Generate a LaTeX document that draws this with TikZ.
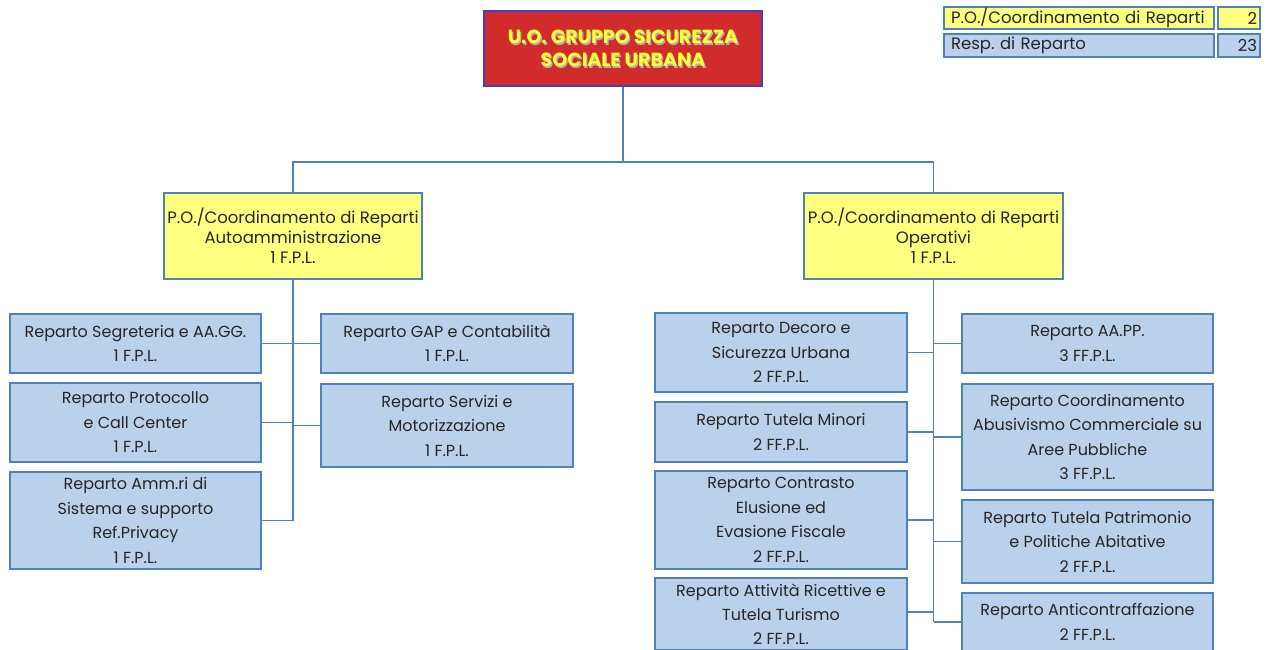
\documentclass[tikz,border=0pt]{standalone}
\usepackage{fontspec}
\setmainfont{Poppins}
\definecolor{boxblue}{HTML}{B9D1EA}
\definecolor{edgeblue}{HTML}{4F81BD}
\definecolor{poyellow}{HTML}{FFFF80}
\definecolor{titlered}{HTML}{D22B2B}
\definecolor{titleedge}{HTML}{4040C0}
\definecolor{titletext}{HTML}{FFFF33}
\definecolor{ink}{HTML}{262626}
\tikzset{
  unitbox/.style={draw=edgeblue, fill=boxblue, line width=1.1pt, align=center, text=ink,
    font=\fontsize{16}{24.5}\selectfont, inner sep=0pt},
  pobox/.style={draw=edgeblue, fill=poyellow, line width=1.1pt, align=center, text=ink,
    font=\fontsize{16.5}{20}\selectfont, inner sep=0pt, minimum height=86pt},
  titlebox/.style={draw=titleedge, fill=titlered, line width=1.3pt, minimum width=278pt, minimum height=75pt},
  titletxt/.style={align=center, font=\bfseries\fontsize{19}{23}\selectfont, inner sep=0pt},
  legbox/.style={draw=edgeblue, line width=1.1pt, text=ink, font=\fontsize{16.5}{18}\selectfont, inner sep=0pt},
  link/.style={draw=edgeblue, line width=1.3pt},
}
\begin{document}
\begin{tikzpicture}[x=1pt,y=-1pt]
\useasboundingbox (0,0) rectangle (1268,649);
% title
\node[titlebox] (top) at (623,48.5) {};
\node[titletxt, text=gray!60] (topshadow) at (624.3,49.8) {U.O. GRUPPO SICUREZZA\\SOCIALE URBANA};
\node[titletxt, text=titletext] (toptext) at (623,48.5) {U.O. GRUPPO SICUREZZA\\SOCIALE URBANA};
% legend
\node[legbox, fill=poyellow, minimum width=270pt, minimum height=22pt, text width=256pt, align=left] (leg1) at (1079,18) {P.O./Coordinamento di Reparti};
\node[legbox, fill=poyellow, minimum width=42pt, minimum height=22pt, text width=36pt, align=right] (leg1n) at (1239,18) {2};
\node[legbox, fill=boxblue, minimum width=270pt, minimum height=23pt, text width=256pt, align=left] (leg2) at (1079,45.5) {Resp.\ di Reparto};
\node[legbox, fill=boxblue, minimum width=42pt, minimum height=23pt, text width=36pt, align=right] (leg2n) at (1239,45.5) {23};
% PO boxes
\node[pobox, minimum width=258pt] (poL) at (293,236) {P.O./Coordinamento di Reparti\\Autoamministrazione\\1 F.P.L.};
\node[pobox, minimum width=259pt] (poR) at (933.5,236) {P.O./Coordinamento di Reparti\\Operativi\\1 F.P.L.};
% left units
\node[unitbox, minimum width=251pt, minimum height=59pt] (seg) at (135.5,343.5) {Reparto Segreteria e AA.GG.\\1 F.P.L.};
\node[unitbox, minimum width=251pt, minimum height=79pt] (prot) at (135.5,422.5) {Reparto Protocollo\\e Call Center\\1 F.P.L.};
\node[unitbox, minimum width=251pt, minimum height=97pt] (amm) at (135.5,520.5) {Reparto Amm.ri di\\Sistema e supporto\\Ref.Privacy\\1 F.P.L.};
\node[unitbox, minimum width=252pt, minimum height=59pt] (gap) at (447,343.5) {Reparto GAP e Contabilità\\1 F.P.L.};
\node[unitbox, minimum width=252pt, minimum height=83pt] (serv) at (447,425.5) {Reparto Servizi e\\Motorizzazione\\1 F.P.L.};
% right units
\node[unitbox, minimum width=252pt, minimum height=79pt] (dec) at (781,352.5) {Reparto Decoro e\\Sicurezza Urbana\\2 FF.P.L.};
\node[unitbox, minimum width=252pt, minimum height=60pt] (mino) at (781,432) {Reparto Tutela Minori\\2 FF.P.L.};
\node[unitbox, minimum width=252pt, minimum height=98pt] (contr) at (781,520) {Reparto Contrasto\\Elusione ed\\Evasione Fiscale\\2 FF.P.L.};
\node[unitbox, minimum width=252pt, minimum height=72pt, font=\fontsize{16}{24}\selectfont] (att) at (781,614) {Reparto Attività Ricettive e\\Tutela Turismo\\2 FF.P.L.};
\node[unitbox, minimum width=251pt, minimum height=59pt] (aapp) at (1087.5,343.5) {Reparto AA.PP.\\3 FF.P.L.};
\node[unitbox, minimum width=251pt, minimum height=106pt] (coord) at (1087.5,437) {Reparto Coordinamento\\Abusivismo Commerciale su\\Aree Pubbliche\\3 FF.P.L.};
\node[unitbox, minimum width=251pt, minimum height=83pt] (pat) at (1087.5,541.5) {Reparto Tutela Patrimonio\\e Politiche Abitative\\2 FF.P.L.};
\node[unitbox, minimum width=251pt, minimum height=58pt] (anti) at (1087.5,622) {Reparto Anticontraffazione\\2 FF.P.L.};
% connectors top
\coordinate (jn) at (623,162);
\draw[link] (top.south) -- (jn);
\draw[link] (poL.north) |- (jn) -| (poR.north);
% left spine
\draw[link] (poL.south) -- (poL.south |- amm.east);
\foreach \n in {seg,prot,amm}{\draw[link] (\n.east) -- (\n.east -| poL.south);}
\foreach \n in {gap,serv}{\draw[link] (\n.west) -- (\n.west -| poL.south);}
% right spine
\draw[link] (poR.south) -- (poR.south |- anti.west);
\foreach \n in {dec,mino,contr}{\draw[link] (\n.east) -- (\n.east -| poR.south);}
\draw[link] ([yshift=2pt]att.east) -- ([yshift=2pt]att.east -| poR.south);
\foreach \n in {aapp,coord,pat,anti}{\draw[link] (\n.west) -- (\n.west -| poR.south);}
\end{tikzpicture}
\end{document}
